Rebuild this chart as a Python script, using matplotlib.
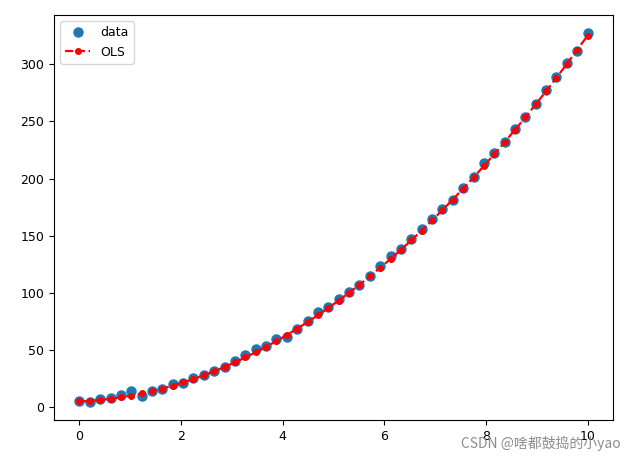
import numpy as np
import matplotlib
matplotlib.use('Agg')
import matplotlib.pyplot as plt

# x positions: 50 evenly spaced samples from 0 to 10
x = np.linspace(0, 10, 50)

y_data = [5.7, 4.9, 6.9, 8.1, 10.4, 14.1, 10.1, 13.9, 15.9, 20.5,
          21.1, 25.4, 28.3, 31.8, 35.2, 40.5, 45.7, 50.6, 53.5, 59.9,
          61.6, 68.8, 75.2, 83.3, 87.3, 94.9, 101.0, 107.0, 114.8, 123.8,
          132.2, 138.0, 146.7, 155.6, 164.3, 173.0, 181.4, 191.8, 201.6, 213.5,
          222.7, 232.3, 243.1, 254.0, 264.8, 277.2, 288.7, 300.9, 311.9, 326.9]

# fitted (OLS) values
y_ols = [5.0, 5.5, 6.3, 7.4, 8.6, 10.2, 12.0, 14.0, 16.3, 18.8,
         21.6, 24.6, 27.9, 31.4, 35.2, 39.2, 43.5, 48.1, 52.8, 57.9,
         63.2, 68.7, 74.5, 80.5, 86.8, 93.3, 100.1, 107.1, 114.4, 121.9,
         129.7, 137.7, 146.0, 154.5, 163.3, 172.4, 181.6, 191.2, 200.9, 211.0,
         221.3, 231.8, 242.6, 253.6, 264.9, 276.4, 288.2, 300.2, 312.5, 325.0]

plt.rcParams['font.size'] = 9

fig = plt.figure(figsize=(6.37, 4.62), dpi=100)
ax = fig.add_axes([54/637, 42/462, 559/637, 405/462])

ax.plot(x, y_data, 'o', color='#1f77b4', markersize=6.5, label='data')
ax.plot(x, y_ols, 'r--.', linewidth=1.6, markersize=8, label='OLS')

ax.set_xticks([0, 2, 4, 6, 8, 10])
ax.set_yticks([0, 50, 100, 150, 200, 250, 300])
ax.legend(loc='upper left')

fig.text(0.975, 0.04, 'CSDN @啥都鼓捣的小yao', ha='right', va='center',
         fontsize=10, color='#8c8c8c',
         family=['Noto Sans CJK SC', 'DejaVu Sans'])

fig.savefig('out.png', dpi=100)
